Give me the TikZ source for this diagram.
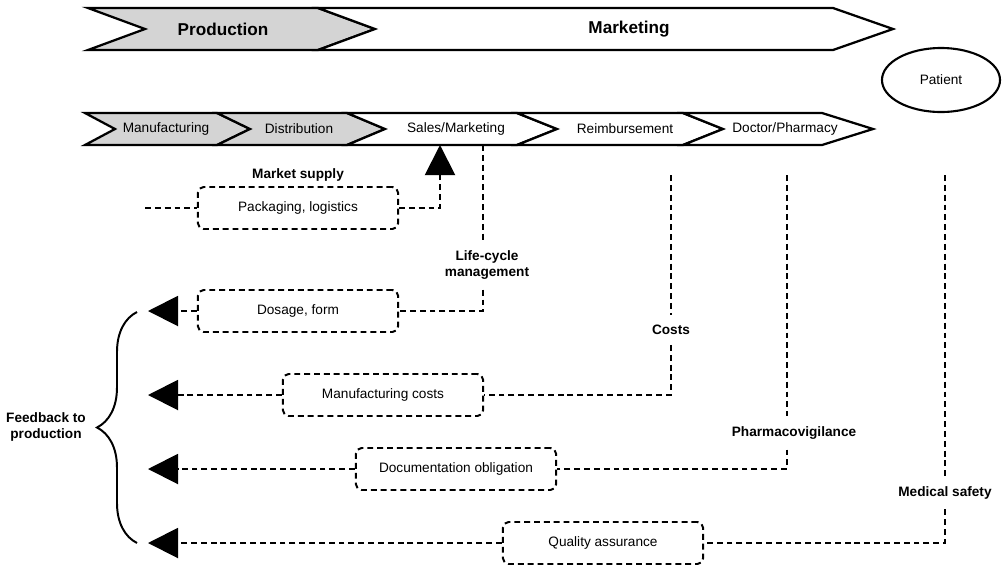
\documentclass[tikz,border=0pt]{standalone}
\usepackage{fontspec}
\setmainfont{Liberation Sans}
\usetikzlibrary{arrows.meta,shapes.geometric,decorations.pathreplacing}

\begin{document}
\begin{tikzpicture}[
	x=0.025cm, y=-0.025cm,
	font=\fontsize{9.7}{11.6}\selectfont,
	chev/.style={
		draw,
		line width=1.6pt,
		line join=miter
	},
	head/.style={
		font=\fontsize{12.2}{14}\selectfont\bfseries
	},
	lbl/.style={
		font=\fontsize{9.7}{11.6}\selectfont\bfseries,
		align=center,
		inner ysep=7pt
	},
	task/.style={
		draw,
		dash pattern=on 4.2pt off 2.8pt,
		line width=1.4pt,
		rounded corners=4pt,
		minimum width=5cm,
		minimum height=1.05cm
	},
	flow/.style={
		dash pattern=on 4.2pt off 2.8pt,
		line width=1.4pt
	},
	back/.style={
		flow,
		-{Triangle[length=0.75cm,width=0.75cm]}
	}
	]

	\useasboundingbox (0,0) rectangle (1002,568);

	% value chain, upper row
	\draw[chev, fill=black!17] (88,8) -- (318,8) -- (375,29) -- (318,50) -- (88,50) -- (145,29) -- cycle;
	\draw[chev, fill=white] (318,8) -- (833,8) -- (893,29) -- (833,50) -- (318,50) -- (375,29) -- cycle;
	\node[head] (Production) at (223,29) {Production};
	\node[head] (Marketing) at (629,29) {Marketing};

	% value chain, lower row
	\foreach \xl/\nt/\xr/\tp/\col/\tx/\nm/\txt in {
		85/115/217/250/black!17/166/Mfg/{Manufacturing},
		217/250/347/385/black!17/299/Distr/{Distribution},
		347/385/517/557/white/456/Sales/{Sales/Marketing},
		517/557/683/723/white/625/Reimb/{Reimbursement},
		683/723/822/873/white/785/Doctor/{Doctor/Pharmacy}}
	{
		\draw[chev, fill=\col] (\xl,113) -- (\xr,113) -- (\tp,129) -- (\xr,145) -- (\xl,145) -- (\nt,129) -- cycle;
		\node (\nm) at (\tx,129) {\txt};
	}

	\node[draw, ellipse, line width=1.5pt, minimum width=2.95cm, minimum height=1.6cm] (Patient) at (941,80) {Patient};

	% tasks
	\node[task] (Packaging) at (298,208) {Packaging, logistics};
	\node[task] (Dosage) at (298,311) {Dosage, form};
	\node[task] (MfgCosts) at (383,395) {Manufacturing costs};
	\node[task] (Docu) at (456,469) {Documentation obligation};
	\node[task] (Quality) at (603,543) {Quality assurance};

	\node[lbl, inner ysep=3pt] (Supply) at (298,175) {Market supply};
	\node[lbl] (LifeCycle) at (487,265) {Life-cycle\\management};
	\node[lbl] (Costs) at (671,330) {Costs};
	\node[lbl] (Vigilance) at (794,433) {Pharmacovigilance};
	\node[lbl] (Safety) at (945,493) {Medical safety};
	\node[lbl, inner ysep=3pt] (Feedback) at (46,427) {Feedback to\\production};

	\coordinate (SupplyIn) at (145,208);
	\coordinate (SalesIn) at (440,145);
	\coordinate (LcTop) at (483,145);
	\coordinate (CoTop) at (671,175);
	\coordinate (PvTop) at (787,175);
	\coordinate (MsTop) at (945,175);
	\coordinate (F1) at (148,311);
	\coordinate (F2) at (148,395);
	\coordinate (F3) at (148,469);
	\coordinate (F4) at (148,543);

	% market supply
	\draw[flow] (SupplyIn) -- (Packaging.west);
	\draw[back] (Packaging.east) -| (SalesIn);

	% feedback lines
	\draw[flow] (LcTop) -- (LcTop |- LifeCycle.north);
	\draw[flow] (LcTop |- LifeCycle.south) |- (Dosage.east);
	\draw[back] (Dosage.west) -- (F1);

	\draw[flow] (CoTop) -- (CoTop |- Costs.north);
	\draw[flow] (CoTop |- Costs.south) |- (MfgCosts.east);
	\draw[back] (MfgCosts.west) -- (F2);

	\draw[flow] (PvTop) -- (PvTop |- Vigilance.north);
	\draw[flow] (PvTop |- Vigilance.south) |- (Docu.east);
	\draw[back] (Docu.west) -- (F3);

	\draw[flow] (MsTop) -- (MsTop |- Safety.north);
	\draw[flow] (MsTop |- Safety.south) |- (Quality.east);
	\draw[back] (Quality.west) -- (F4);

	\draw[line width=1.4pt, decorate, decoration={brace, amplitude=1cm}] (137,543) -- (137,312);

\end{tikzpicture}
\end{document}
